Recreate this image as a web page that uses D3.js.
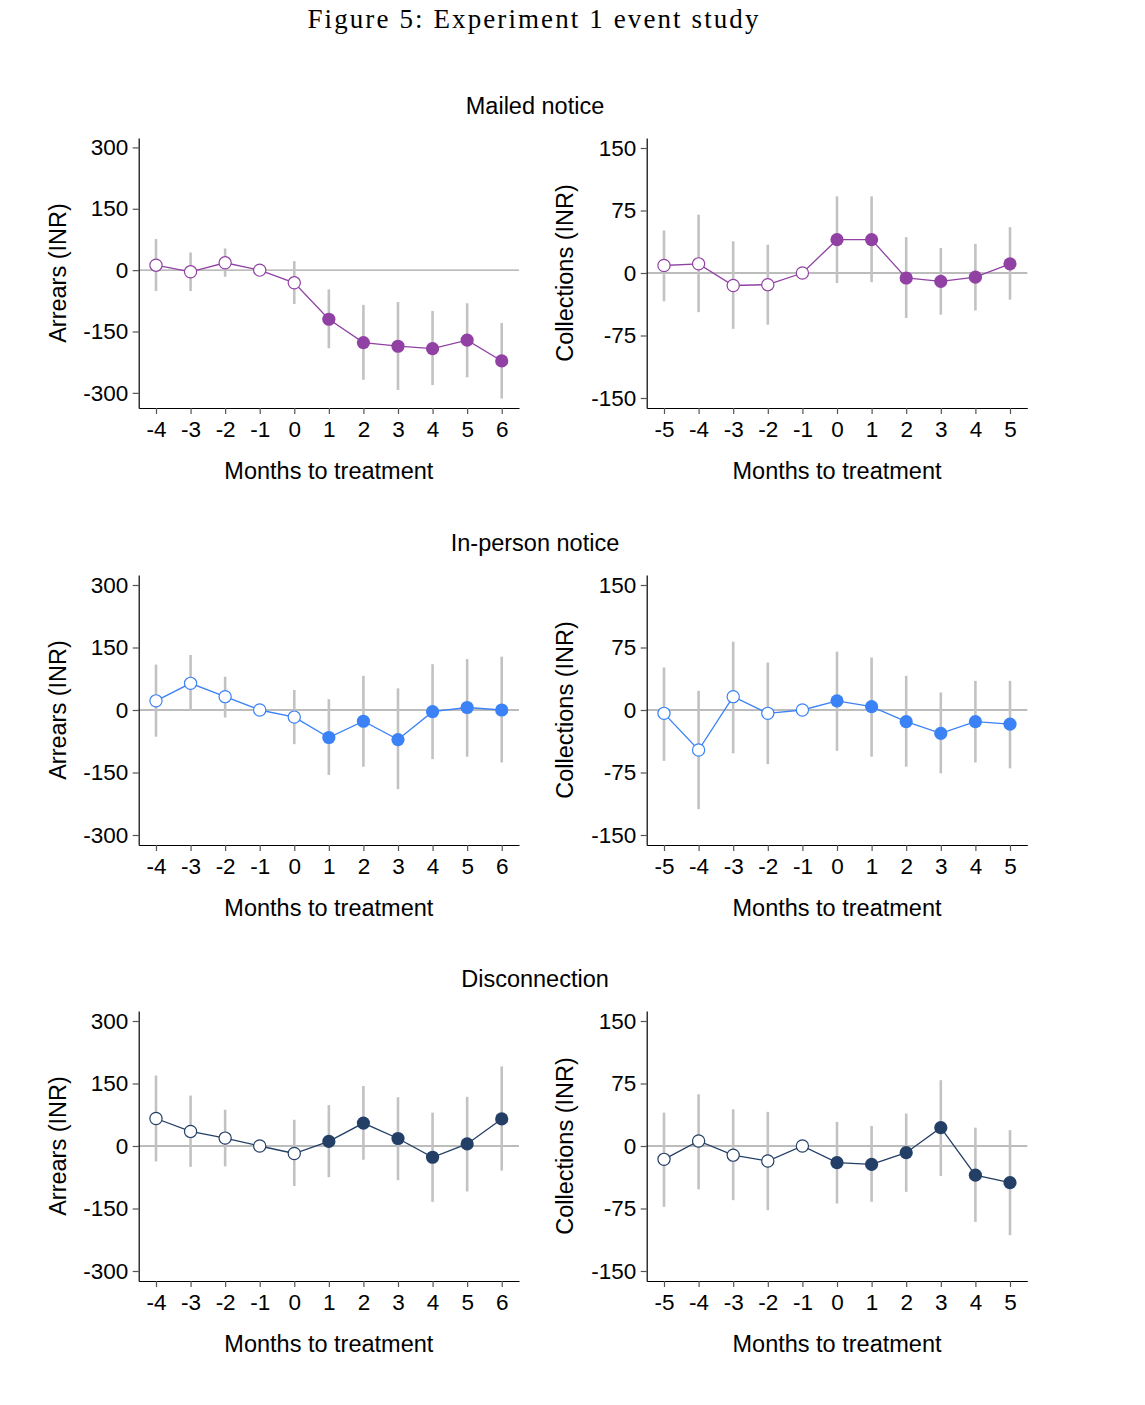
<!DOCTYPE html>
<html>
<head>
<meta charset="utf-8">
<script src="https://cdn.jsdelivr.net/npm/d3@7"></script>
<style>
  body { margin: 0; background: #fff; }
  svg { display: block; }
</style>
</head>
<body>
<svg id="fig" width="1145" height="1405"></svg>
<script>
// months on the x axis
var arrearsMonths = [-4, -3, -2, -1, 0, 1, 2, 3, 4, 5, 6];
var collectMonths = [-5, -4, -3, -2, -1, 0, 1, 2, 3, 4, 5];

var arrearsTicks = [300, 150, 0, -150, -300];
var collectTicks = [150, 75, 0, -75, -150];

var panelTitles = ["Mailed notice", "In-person notice", "Disconnection"];
var panelColors = ["#9141a4", "#3a82f6", "#233f66"];

// Mailed notice
var mailArrEst = [12, -4, 18, 0, -31, -120, -177, -186, -192, -171, -222];
var mailArrLo  = [-51, -51, -16, 0, -83, -191, -268, -293, -281, -262, -314];
var mailArrHi  = [76, 43, 53, 0, 22, -47, -85, -78, -100, -81, -129];
var mailColEst = [9, 11, -15, -14, 0, 40, 40, -6, -10, -5, 11];
var mailColLo  = [-34, -47, -67, -62, 0, -12, -11, -54, -50, -45, -32];
var mailColHi  = [51, 70, 38, 34, 0, 92, 92, 43, 30, 35, 55];

// In-person notice
var persArrEst = [22, 64, 32, 0, -17, -66, -27, -71, -4, 6, 0];
var persArrLo  = [-64, -2, -18, 0, -82, -156, -136, -190, -118, -112, -126];
var persArrHi  = [109, 132, 80, 0, 48, 26, 82, 52, 110, 122, 128];
var persColEst = [-4, -48, 16, -4, 0, 11, 4, -14, -28, -14, -17];
var persColLo  = [-61, -119, -52, -65, 0, -49, -56, -68, -76, -63, -70];
var persColHi  = [51, 23, 82, 57, 0, 70, 63, 41, 21, 35, 35];

// Disconnection
var discArrEst = [66, 35, 19, 0, -18, 11, 55, 18, -27, 5, 65];
var discArrLo  = [-37, -50, -49, 0, -96, -75, -33, -82, -134, -109, -59];
var discArrHi  = [169, 121, 87, 0, 63, 98, 144, 117, 80, 118, 191];
var discColEst = [-16, 6, -11, -18, 0, -20, -22, -8, 22, -35, -44];
var discColLo  = [-73, -52, -65, -77, 0, -69, -67, -55, -36, -91, -107];
var discColHi  = [40, 62, 44, 41, 0, 29, 24, 39, 79, 22, 19];

var svg = d3.select("#fig");
var font = "'Liberation Sans', Arial, Helvetica, sans-serif";

svg.append("text")
  .attr("x", 534).attr("y", 28)
  .attr("text-anchor", "middle")
  .style("font-family", "'Liberation Serif', 'DejaVu Serif', serif")
  .style("font-size", "27px")
  .style("letter-spacing", "2.1px")
  .text("Figure 5:  Experiment 1 event study");

var rowTop = [138, 575, 1011];
var plotH = 270;

var rows = [
  { arr: [mailArrEst, mailArrLo, mailArrHi], col: [mailColEst, mailColLo, mailColHi], arrDom: [-337, 323] },
  { arr: [persArrEst, persArrLo, persArrHi], col: [persColEst, persColLo, persColHi], arrDom: [-324, 324] },
  { arr: [discArrEst, discArrLo, discArrHi], col: [discColEst, discColLo, discColHi], arrDom: [-324, 324] }
];

function drawPanel(g, opt) {
  var x = d3.scaleLinear().domain(opt.xDom).range([opt.x0, opt.x1]);
  var y = d3.scaleLinear().domain(opt.yDom).range([opt.top + plotH, opt.top]);

  // zero reference line
  g.append("line")
    .attr("x1", opt.x0).attr("x2", opt.x1)
    .attr("y1", y(0)).attr("y2", y(0))
    .attr("stroke", "#a6a6a6").attr("stroke-width", 1.4);

  var pts = opt.months.map(function (m, i) {
    return { m: m, est: opt.est[i], lo: opt.lo[i], hi: opt.hi[i] };
  });

  // confidence intervals
  g.selectAll(".ci")
    .data(pts.filter(function (d) { return d.lo != d.hi; }))
    .join("line")
    .attr("x1", function (d) { return x(d.m); })
    .attr("x2", function (d) { return x(d.m); })
    .attr("y1", function (d) { return y(d.lo); })
    .attr("y2", function (d) { return y(d.hi); })
    .attr("stroke", "#c2c2c2").attr("stroke-width", 2.6);

  var line = d3.line()
    .x(function (d) { return x(d.m); })
    .y(function (d) { return y(d.est); });
  g.append("path")
    .datum(pts)
    .attr("d", line)
    .attr("fill", "none")
    .attr("stroke", opt.color).attr("stroke-width", 1.3);

  g.selectAll(".pt")
    .data(pts)
    .join("circle")
    .attr("cx", function (d) { return x(d.m); })
    .attr("cy", function (d) { return y(d.est); })
    .attr("r", function (d) { return d.m >= opt.firstTreated ? 6.6 : 6.1; })
    .attr("fill", function (d) { return d.m >= opt.firstTreated ? opt.color : "#fff"; })
    .attr("stroke", opt.color)
    .attr("stroke-width", function (d) { return d.m >= opt.firstTreated ? 0 : 1.2; });

  // axes
  var yAxis = g.append("g")
    .attr("transform", "translate(" + opt.x0 + ",0)")
    .call(d3.axisLeft(y).tickValues(opt.yTicks).tickSize(6).tickSizeOuter(0).tickPadding(4.5)
      .tickFormat(function (d) { return String(d); }));
  var xAxis = g.append("g")
    .attr("transform", "translate(0," + (opt.top + plotH) + ")")
    .call(d3.axisBottom(x).tickValues(opt.months).tickSize(6).tickSizeOuter(0)
      .tickFormat(function (d) { return String(d); }));

  [yAxis, xAxis].forEach(function (a) {
    a.select(".domain").attr("stroke", "#000").attr("stroke-width", 1.2);
    a.selectAll(".tick line").attr("stroke", "#555").attr("stroke-width", 1.2);
    a.selectAll("text")
      .style("font-family", font).style("font-size", "22.5px").attr("fill", "#000");
  });
  xAxis.selectAll("text").attr("y", 28.5).attr("dy", 0);

  g.append("text")
    .attr("x", (opt.x0 + opt.x1) / 2).attr("y", opt.top + plotH + 71)
    .attr("text-anchor", "middle")
    .style("font-family", font).style("font-size", "23.5px")
    .text("Months to treatment");

  g.append("text")
    .attr("transform", "translate(" + opt.titleX + "," + (opt.top + plotH / 2) + ") rotate(-90)")
    .attr("text-anchor", "middle")
    .style("font-family", font).style("font-size", "23.5px")
    .text(opt.yTitle);
}

rows.forEach(function (r, i) {
  var top = rowTop[i];
  svg.append("text")
    .attr("x", 535).attr("y", top - 24)
    .attr("text-anchor", "middle")
    .style("font-family", font).style("font-size", "23.5px")
    .text(panelTitles[i]);

  drawPanel(svg.append("g"), {
    top: top, x0: 138.7, x1: 519, xDom: [-4.5, 6.5], yDom: r.arrDom,
    months: arrearsMonths, est: r.arr[0], lo: r.arr[1], hi: r.arr[2],
    yTicks: arrearsTicks, color: panelColors[i], firstTreated: 1,
    yTitle: "Arrears (INR)", titleX: 65.5
  });
  drawPanel(svg.append("g"), {
    top: top, x0: 646.7, x1: 1027.3, xDom: [-5.5, 5.5], yDom: [-162, 162],
    months: collectMonths, est: r.col[0], lo: r.col[1], hi: r.col[2],
    yTicks: collectTicks, color: panelColors[i], firstTreated: 0,
    yTitle: "Collections (INR)", titleX: 573
  });
});
</script>
</body>
</html>
